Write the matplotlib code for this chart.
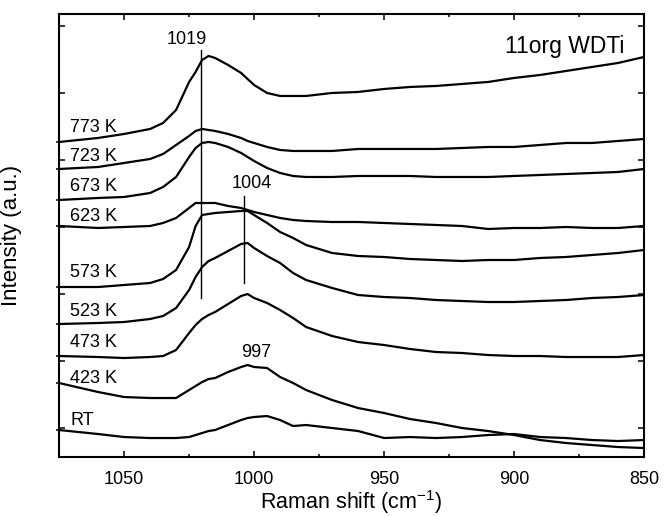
import numpy as np
import matplotlib.pyplot as plt
from matplotlib.ticker import MultipleLocator

plt.rcParams['font.family'] = ['Liberation Sans', 'DejaVu Sans']
plt.rcParams['mathtext.fontset'] = 'custom'
plt.rcParams['mathtext.rm'] = 'Liberation Sans'
plt.rcParams['mathtext.it'] = 'Liberation Sans:italic'

# Raman shift grid (cm-1) and stacked intensities (a.u., offsets included)
shift = [1075, 1060, 1050, 1040, 1035, 1030, 1025, 1022.5, 1020, 1017.5, 1015, 1010, 1005,
         1002.5, 1000, 995, 990, 985, 980, 970, 960, 950, 940, 930, 920, 910, 900, 890,
         880, 870, 860, 850]

i_773 = [315, 319, 323, 328, 334, 347, 375, 385, 397, 401, 399, 392, 384, 378, 372, 364, 361,
         361, 361, 364, 365, 368, 370, 371, 373, 375, 379, 382, 386, 390, 394, 400]
i_723 = [288, 290, 294, 298, 303, 312, 321, 326, 328, 327, 326, 323, 319, 316, 314, 310, 307,
         306, 306, 306, 308, 308, 308, 308, 309, 310, 310, 312, 314, 314, 316, 318]
i_673 = [257, 259, 260, 264, 270, 280, 300, 309, 314, 315, 314, 310, 304, 300, 296, 289, 284,
         281, 280, 280, 281, 281, 281, 280, 280, 280, 281, 282, 283, 284, 285, 288]
i_623 = [231, 229, 230, 231, 234, 239, 249, 254, 254, 254, 254, 251, 249, 247, 245, 242, 239,
         237, 236, 235, 235, 234, 233, 232, 231, 228, 229, 229, 230, 229, 229, 231]
i_573 = [170, 170, 172, 174, 178, 187, 210, 231, 242, 243, 244, 245, 246, 246, 242, 234, 225,
         219, 212, 204, 201, 200, 198, 197, 196, 197, 197, 199, 200, 202, 204, 207]
i_523 = [133, 134, 135, 138, 141, 149, 167, 180, 190, 196, 199, 206, 213, 214, 209, 201, 194,
         184, 177, 169, 162, 160, 159, 157, 156, 155, 155, 156, 157, 159, 160, 162]
i_473 = [101, 100, 99, 100, 101, 107, 124, 132, 138, 142, 145, 153, 161, 163, 159, 154, 147,
         139, 130, 121, 115, 112, 108, 105, 104, 102, 101, 101, 100, 100, 100, 102]
i_423 = [74, 65, 60, 59, 59, 59, 67, 71, 75, 78, 79, 85, 90, 92, 90, 89, 80,
         74, 67, 57, 49, 44, 38, 34, 29, 26, 22, 17, 14, 12, 10, 9]
i_rt = [27, 23, 20, 19, 19, 19, 20, 22, 24, 26, 27, 32, 37, 39, 40, 41, 37,
        31, 32, 29, 26, 19, 20, 19, 20, 22, 23, 20, 19, 17, 16, 17]

curves = [i_773, i_723, i_673, i_623, i_573, i_523, i_473, i_423, i_rt]
temps = ['773 K', '723 K', '673 K', '623 K', '573 K', '523 K', '473 K', '423 K', 'RT']
label_y = [329, 300, 270, 240, 184, 146, 115, 79, 37]

# peak markers: label, line position, line span (y), label position
peak_names = ['1019', '1004']
peak_x = [1020.5, 1004]
peak_span = [(159, 407), (174, 261)]
peak_text_xy = [(1026, 417), (1001, 273)]

fig = plt.figure(figsize=(6.64, 5.17), dpi=100)
ax = fig.add_axes([0.089, 0.116, 0.881, 0.857])

for y in curves:
    ax.plot(shift, y, color='k', lw=1.6, solid_joinstyle='round')

for name, x, span, (tx, ty) in zip(peak_names, peak_x, peak_span, peak_text_xy):
    ax.plot([x, x], span, color='k', lw=1.0)
    ax.text(tx, ty, name, fontsize=13, ha='center', va='center')
ax.text(999.2, 105, '997', fontsize=13, ha='center', va='center')

for t, y in zip(temps, label_y):
    ax.text(1070.8, y, t, fontsize=13, ha='left', va='center')

ax.text(880.4, 410, '11org WDTi', fontsize=16.5, ha='center', va='center')

ax.set_xlim(1075, 850)
ax.set_ylim(0, 443)

ax.xaxis.set_major_locator(MultipleLocator(50))
ax.xaxis.set_minor_locator(MultipleLocator(25))
ax.set_yticks(np.arange(29, 440, 67))
ax.set_yticks([c[0] for c in curves], minor=True)

ax.tick_params(axis='x', which='both', direction='in', top=True, labelsize=13, pad=10)
ax.tick_params(which='major', length=4.5, width=1.1)
ax.tick_params(axis='x', which='minor', length=2.5, width=1.1)
ax.tick_params(axis='y', which='major', direction='in', left=True, right=True, labelleft=False)
ax.tick_params(axis='y', which='minor', direction='out', left=True, right=False, length=2.5, width=1.1)

for sp in ax.spines.values():
    sp.set_linewidth(1.5)

ax.set_xlabel(r'Raman shift (cm$^{-1}$)', fontsize=15.5, labelpad=0)
ax.set_ylabel('Intensity (a.u.)', fontsize=16)
ax.yaxis.set_label_coords(-0.063, 0.5)

fig.savefig('out.png', dpi=100)
